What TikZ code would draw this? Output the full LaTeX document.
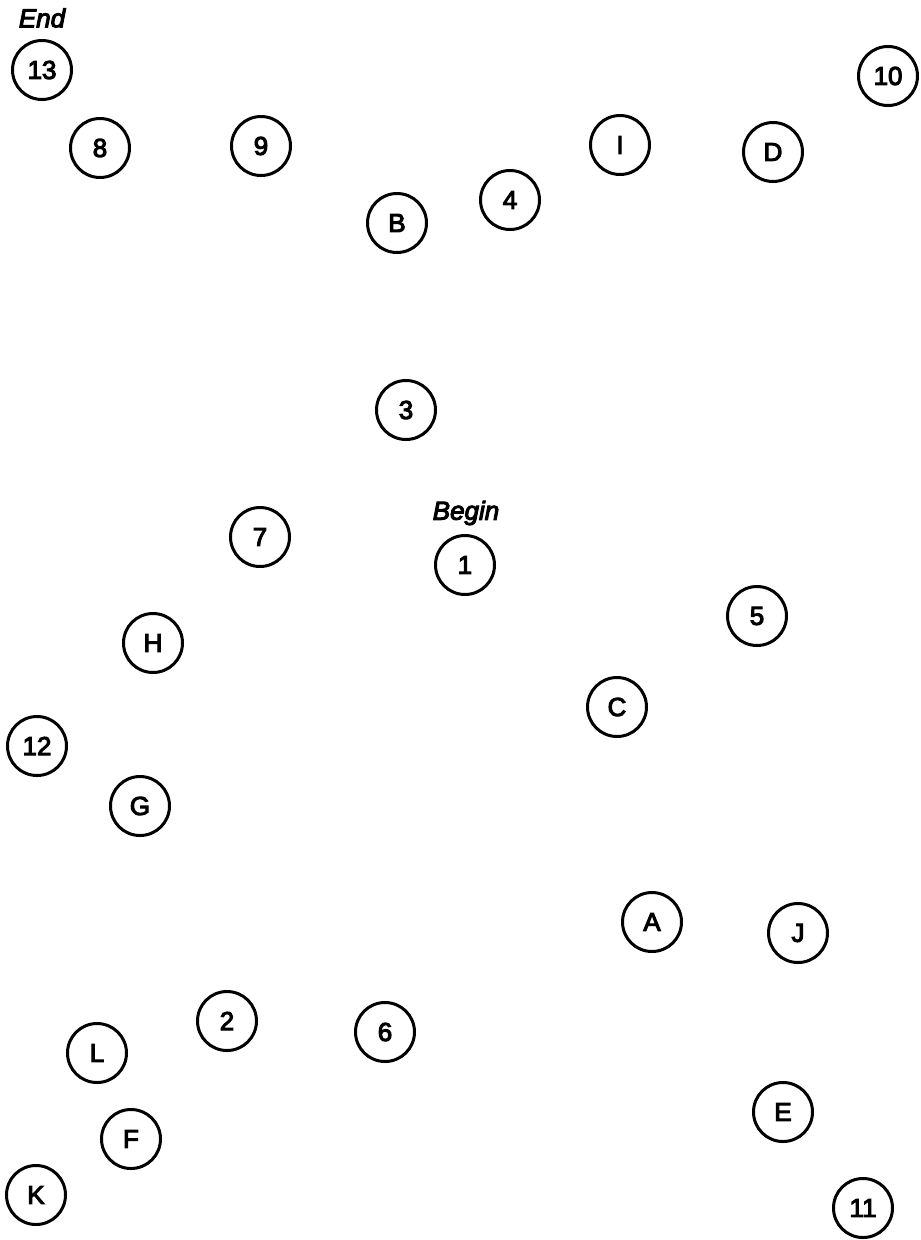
\documentclass[tikz,border=0pt]{standalone}
\usepackage{fontspec}
\setmainfont{Liberation Sans}
\newfontfamily\tmfont{Liberation Sans}[FakeBold=4]
\begin{document}
\begin{tikzpicture}[x=1pt,y=-1pt,
  tm/.style={circle,draw=black,line width=3pt,minimum size=59pt,inner sep=0pt,font=\tmfont\fontsize{26}{26}\selectfont},
  lbl/.style={font=\tmfont\itshape\fontsize{26}{26}\selectfont,inner sep=0pt}]
\useasboundingbox (0,0) rectangle (921,1240);
\node[tm] (n13) at (42,70) {13};
\node[lbl] (end) at (42,18) {End};
\node[tm] (n10) at (888,76) {10};
\node[tm] (n8) at (100,148) {8};
\node[tm] (n9) at (261,146) {9};
\node[tm] (nI) at (620,145) {I};
\node[tm] (nD) at (773,152) {D};
\node[tm] (n4) at (510,200) {4};
\node[tm] (nB) at (397,223) {B};
\node[tm] (n3) at (406,410) {3};
\node[lbl] (begin) at (466,513) {Begin};
\node[tm] (n1) at (465,565) {1};
\node[tm] (n7) at (260,537) {7};
\node[tm] (n5) at (757,616) {5};
\node[tm] (nH) at (153,643) {H};
\node[tm] (nC) at (617,707) {C};
\node[tm] (n12) at (37,746) {12};
\node[tm] (nG) at (140,806) {G};
\node[tm] (nA) at (652,922) {A};
\node[tm] (nJ) at (798,933) {J};
\node[tm] (n2) at (227,1021) {2};
\node[tm] (n6) at (385,1032) {6};
\node[tm] (nL) at (97,1053) {L};
\node[tm] (nE) at (783,1112) {E};
\node[tm] (nF) at (131,1139) {F};
\node[tm] (nK) at (36,1195) {K};
\node[tm] (n11) at (863,1208) {11};
\end{tikzpicture}
\end{document}
